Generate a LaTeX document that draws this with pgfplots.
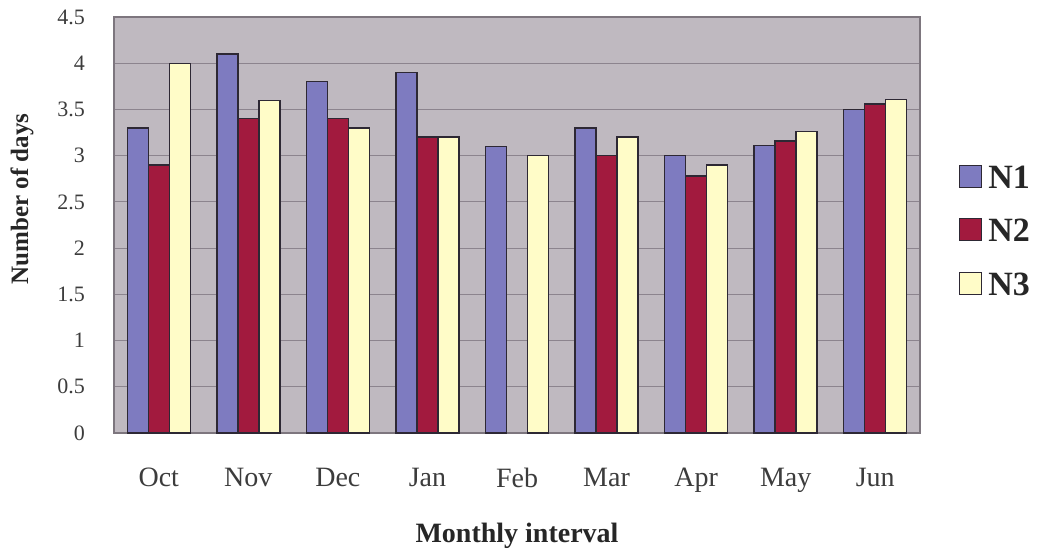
\documentclass[border=0pt]{standalone}
\usepackage{fontspec}
\setmainfont{Liberation Serif}
\usepackage{pgfplots}
\pgfplotsset{compat=1.18}

\definecolor{plotbg}{RGB}{191,185,192}
\definecolor{gridc}{RGB}{140,132,142}
\definecolor{frame}{RGB}{125,118,126}
\definecolor{barline}{RGB}{45,40,52}
\definecolor{nA}{RGB}{126,123,192}
\definecolor{nB}{RGB}{162,26,62}
\definecolor{nC}{RGB}{255,252,200}
\definecolor{txt}{RGB}{60,60,60}

\begin{document}
\begin{tikzpicture}
\begin{axis}[
  scale only axis,
  width=403pt, height=208pt,
  xmin=-0.5, xmax=8.5,
  ymin=0, ymax=4.5,
  ytick={0,0.5,...,4.5},
  xtick={0,...,8},
  xticklabels={Oct,Nov,Dec,Jan,Feb,Mar,Apr,May,Jun},
  /pgf/number format/assume math mode=true,
  yticklabel style={font=\fontsize{11}{13}\selectfont, text=txt, xshift=-11pt},
  xticklabel style={font=\fontsize{14}{16}\selectfont, text=txt, yshift=-14pt},
  major tick length=0pt,
  axis background/.style={fill=plotbg},
  axis line style={frame, line width=0.8pt},
  ymajorgrids,
  grid style={gridc, line width=0.6pt},
  ybar=0pt,
  bar width=10.5pt,
  every axis plot/.append style={draw=barline, line width=0.7pt},
  xlabel={Monthly interval},
  ylabel={Number of days},
  every axis x label/.style={at={(axis description cs:0.5,-0.262)}, anchor=base,
    font=\fontsize{14}{16}\selectfont\bfseries, text=black!85},
  every axis y label/.style={at={(axis description cs:-0.114,0.5625)}, rotate=90, anchor=center,
    font=\fontsize{12.5}{15}\selectfont\bfseries, text=black!85},
  legend style={draw=none, fill=none, at={(axis description cs:1.041,0.488)}, anchor=west,
    font=\fontsize{17}{20}\selectfont\bfseries, text=black!85,
    row sep=15pt, column sep=3pt,
    nodes={inner sep=0pt, text height=11pt, text depth=0pt}},
  legend cell align=left,
  legend image code/.code={\draw[#1, line width=0.5pt, draw=barline] (0pt,-5pt) rectangle (11pt,6pt);},
]
\addplot[fill=nA] coordinates {(0,3.3) (1,4.1) (2,3.8) (3,3.9) (4,3.1) (5,3.3) (6,3.0) (7,3.11) (8,3.5)};
\addplot[fill=nB] coordinates {(0,2.9) (1,3.4) (2,3.4) (3,3.2) (5,3.0) (6,2.78) (7,3.16) (8,3.56)};
\addplot[fill=nC] coordinates {(0,4.0) (1,3.6) (2,3.3) (3,3.2) (4,3.0) (5,3.2) (6,2.9) (7,3.26) (8,3.61)};
\legend{N1,N2,N3}
\coordinate (ll) at (rel axis cs:0,0);
\coordinate (ur) at (rel axis cs:1,1);
\end{axis}
\pgfresetboundingbox
\path[use as bounding box] ([shift={(-57pt,-60pt)}]ll) rectangle ([shift={(65.5pt,8.5pt)}]ur);
\end{tikzpicture}
\end{document}
